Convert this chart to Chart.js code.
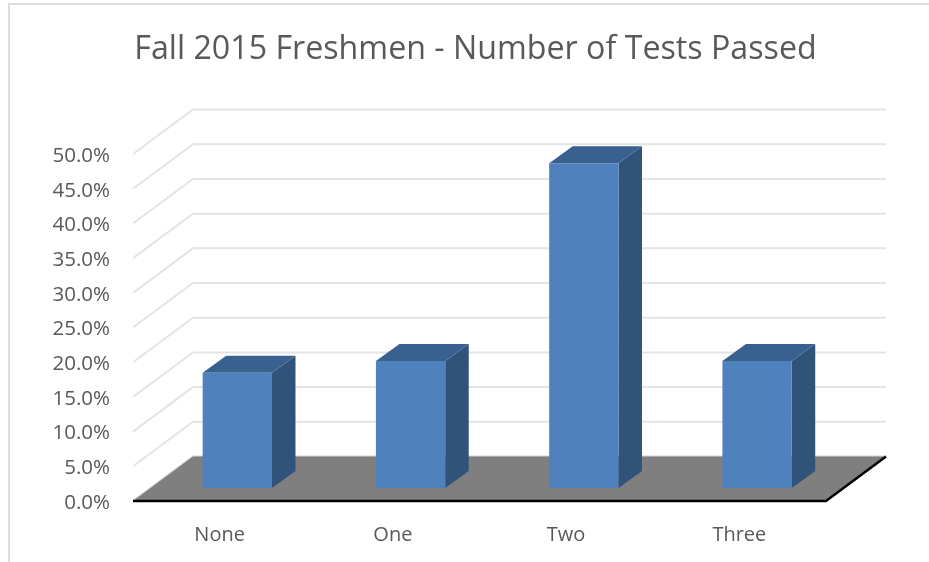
<!DOCTYPE html>
<html>
<head>
<meta charset="utf-8">
<style>html,body{margin:0;padding:0;background:#fff}#wrap{width:929px;height:562px}</style>
<script src="https://cdn.jsdelivr.net/npm/chart.js@4"></script>
</head>
<body>
<div id="wrap"><canvas id="c" width="929" height="562"></canvas></div>
<script>
const titleText = 'Fall 2015 Freshmen - Number of Tests Passed';
const categories = ['None', 'One', 'Two', 'Three'];
const passedPct = [16.6, 18.3, 46.8, 18.3];
const axisMax = 50;
const axisStep = 5;

const depthX = 60, depthY = -44.5;          // plot floor depth
const barShiftX = 17.7, barShiftY = -13;    // bars stand inside the floor
const barDepthX = 23.5, barDepthY = -17;    // depth of each box

const poly = (ctx, pts, fill) => {
  ctx.beginPath();
  pts.forEach((p, i) => i ? ctx.lineTo(p[0], p[1]) : ctx.moveTo(p[0], p[1]));
  ctx.closePath();
  ctx.fillStyle = fill;
  ctx.fill();
};
const seg = (ctx, pts, color, w) => {
  ctx.beginPath();
  pts.forEach((p, i) => i ? ctx.lineTo(p[0], p[1]) : ctx.moveTo(p[0], p[1]));
  ctx.strokeStyle = color;
  ctx.lineWidth = w;
  ctx.stroke();
};

const box3d = {
  id: 'box3d',
  beforeDraw(chart) {
    const ctx = chart.ctx;
    ctx.save();
    ctx.fillStyle = '#fff';
    ctx.fillRect(0, 0, chart.width, chart.height);
    seg(ctx, [[9, 562], [9, 4], [929, 4]], '#DCDCDC', 2);
    ctx.restore();
  },
  beforeDatasetsDraw(chart) {
    const ctx = chart.ctx, { x, y } = chart.scales;
    const L = x.left, R = x.right;
    ctx.save();
    // walls
    y.ticks.forEach(t => {
      const py = y.getPixelForValue(t.value);
      if (t.value === 0) return;
      seg(ctx, [[L, py], [L + depthX, py + depthY], [R + depthX, py + depthY]], '#E4E4E4', 2);
    });
    // floor
    const y0 = y.getPixelForValue(0);
    seg(ctx, [[L, y0], [L + depthX, y0 + depthY], [R + depthX, y0 + depthY]], '#D4D4D4', 2);
    poly(ctx, [[L, y0], [L + depthX, y0 + depthY], [R + depthX, y0 + depthY], [R, y0]], '#7F7F7F');
    seg(ctx, [[L, y0], [R, y0], [R + depthX, y0 + depthY]], '#000000', 2.5);
    // box sides and tops
    chart.getDatasetMeta(0).data.forEach(b => {
      const l = b.x - b.width / 2 + barShiftX, r = b.x + b.width / 2 + barShiftX;
      const top = b.y + barShiftY, bot = b.base + barShiftY;
      poly(ctx, [[r, top], [r + barDepthX, top + barDepthY], [r + barDepthX, bot + barDepthY], [r, bot]], '#315379');
      poly(ctx, [[l, top], [l + barDepthX, top + barDepthY], [r + barDepthX, top + barDepthY], [r, top]], '#39618F');
    });
    ctx.restore();
  },
  beforeDatasetDraw(chart) {
    chart.ctx.save();
    chart.ctx.translate(barShiftX, barShiftY);
  },
  afterDatasetDraw(chart) {
    chart.ctx.restore();
  }
};

new Chart(document.getElementById('c'), {
  type: 'bar',
  data: {
    labels: categories,
    datasets: [{
      data: passedPct,
      backgroundColor: '#4F81BD',
      borderWidth: 0,
      barPercentage: 0.4,
      categoryPercentage: 1,
      clip: false
    }]
  },
  options: {
    responsive: false,
    animation: false,
    layout: { padding: { left: 22, right: 0, top: 0, bottom: 0 } },
    plugins: {
      legend: { display: false },
      tooltip: { enabled: false },
      title: {
        display: true,
        text: titleText,
        color: '#595959',
        font: { family: '"Open Sans"', size: 32.2, weight: 'normal', lineHeight: 1.2 },
        padding: { top: 31, bottom: 84.4 }
      }
    },
    scales: {
      x: {
        grid: { display: false, drawTicks: false },
        border: { display: false },
        afterFit(s) { s.height = 61; },
        ticks: {
          color: '#595959',
          padding: 22,
          maxRotation: 0,
          font: { family: '"Open Sans"', size: 20 }
        }
      },
      y: {
        min: 0,
        max: axisMax,
        grid: { display: false, drawTicks: false },
        border: { display: false },
        afterFit(s) { s.width = 111; },
        ticks: {
          stepSize: axisStep,
          color: '#595959',
          padding: 23,
          labelOffset: 2,
          font: { family: '"Open Sans"', size: 20.5 },
          callback: v => v.toFixed(1) + '%'
        }
      },
      rightGutter: {
        position: 'right',
        min: 0,
        max: axisMax,
        grid: { display: false, drawTicks: false },
        border: { display: false },
        ticks: { display: false },
        afterFit(s) { s.width = 103; }
      }
    }
  },
  plugins: [box3d]
});
</script>
</body>
</html>
